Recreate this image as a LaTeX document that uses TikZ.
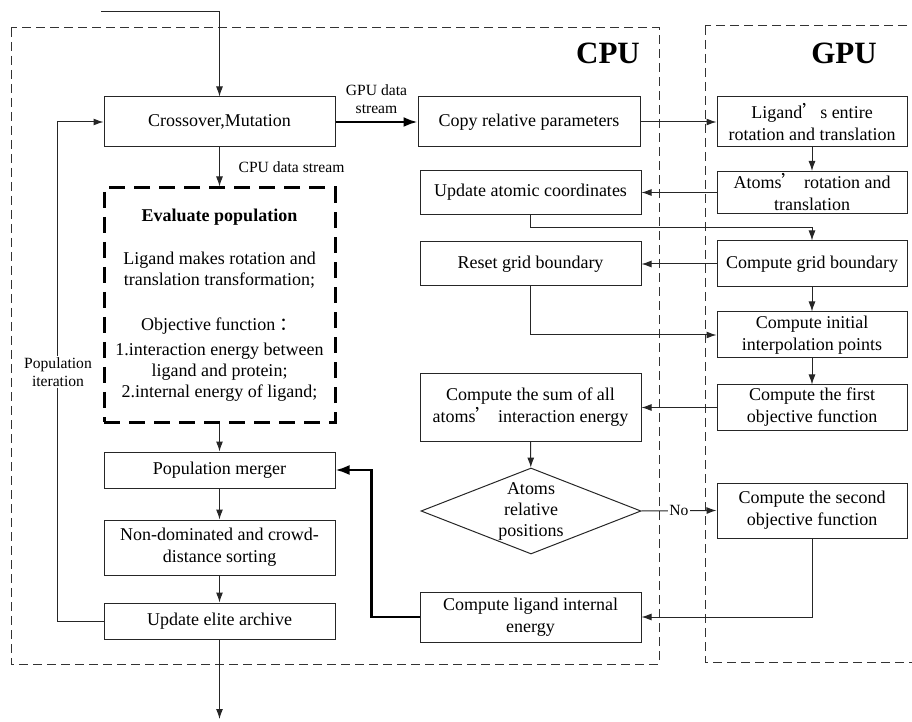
\documentclass[tikz,border=0pt]{standalone}
\usepackage{fontspec}
\setmainfont{Liberation Serif}
\newfontfamily\cjk{Noto Sans CJK SC}
\usepackage{tikz}
\usetikzlibrary{arrows.meta, shapes.geometric}
\tikzstyle{box} = [draw=black!85, line width=0.5pt, align=center, inner sep=1pt]
\tikzstyle{evalbox} = [draw=black, line width=1.5pt, dash pattern=on 8pt off 4.5pt]
\tikzstyle{decision} = [diamond, draw=black!85, line width=0.5pt, inner sep=0pt, minimum width=110pt, minimum height=43pt]
\tikzstyle{flow} = [-{Latex[length=5pt,width=3.5pt]}, line width=0.5pt, draw=black!85]
\tikzstyle{bigflow} = [-{Latex[length=7pt,width=5pt]}, line width=1.2pt, draw=black]
\tikzstyle{region} = [draw=black!80, line width=0.5pt, dash pattern=on 4.5pt off 2.5pt]
\tikzstyle{small} = [font=\fontsize{7.8}{9}\selectfont]
\tikzstyle{title} = [font=\bfseries\fontsize{15.5}{18}\selectfont]

\begin{document}
\begin{tikzpicture}[x=0.5pt, y=-0.5pt, font=\fontsize{9}{11}\selectfont]
    \useasboundingbox (0,0) rectangle (912,722);

    % CPU and GPU regions
    \draw[region] (11,28) rectangle (659,664);
    \draw[region] (705,26) rectangle (940,662);
    \node[title] (cpulabel) at (608,53) {CPU};
    \node[title] (gpulabel) at (844,53) {GPU};

    % Left column (genetic loop)
    \node[box, minimum width=115.5pt, minimum height=25pt] (cross) at (219.5,122) {Crossover,Mutation};
    \node[box, evalbox, minimum width=115.5pt, minimum height=117pt, font=\fontsize{9}{10.5}\selectfont] (eval) at (219.5,305)
        {\textbf{Evaluate population}\\[11pt]Ligand makes rotation and\\translation transformation;\\[12pt]Objective function {\cjk ：}\\[2pt]1.interaction energy between\\ligand and protein;\\2.internal energy of ligand;};
    \node[box, minimum width=115.5pt, minimum height=18pt] (merge) at (219.5,470) {Population merger};
    \node[box, minimum width=115.5pt, minimum height=27.5pt] (nondom) at (219.5,547.5) {Non-dominated and crowd-\\distance sorting};
    \node[box, minimum width=115.5pt, minimum height=18pt] (elite) at (219.5,621) {Update elite archive};

    % CPU side of the data exchange
    \node[box, minimum width=111pt, minimum height=25pt] (copy) at (529,122) {Copy relative parameters};
    \node[box, minimum width=110.5pt, minimum height=22pt] (update) at (530.5,192.5) {Update atomic coordinates};
    \node[box, minimum width=110.5pt, minimum height=22pt] (reset) at (530.5,264) {Reset grid boundary};
    \node[box, minimum width=110.5pt, minimum height=33.5pt] (sum) at (530.5,407.5) {Compute the sum of all\\atoms{\cjk ’} interaction energy};
    \node[decision] (dia) at (531,511) {};
    \node[align=center, font=\fontsize{9}{10.5}\selectfont] (diatext) at (531,511) {Atoms\\relative\\positions};
    \node[box, minimum width=110.5pt, minimum height=25pt] (inner) at (530.5,617) {Compute ligand internal\\energy};

    % GPU column
    \node[box, minimum width=95pt, minimum height=25pt] (lig) at (812,122) {Ligand{\cjk ’}s entire\\rotation and translation};
    \node[box, minimum width=95pt, minimum height=21pt] (rot) at (812,192.5) {Atoms{\cjk ’} rotation and\\translation};
    \node[box, minimum width=95pt, minimum height=23pt] (grid) at (812,264) {Compute grid boundary};
    \node[box, minimum width=95pt, minimum height=23pt] (init) at (812,335) {Compute initial\\interpolation points};
    \node[box, minimum width=95pt, minimum height=22.5pt] (first) at (812,407.5) {Compute the first\\objective function};
    \node[box, minimum width=95pt, minimum height=27.5pt] (second) at (812,510.5) {Compute the second\\objective function};

    % Entry and exit
    \coordinate (start) at (101,12);
    \coordinate (finish) at (219.5,719);
    \draw[flow] (start) -| (cross.north);
    \draw[flow] (elite) -- (finish);

    % Connectors
    \draw[bigflow] (cross) -- node[above, small, align=center] {GPU data\\stream} (copy);
    \draw[flow] (cross) -- node[right=6pt, small] {CPU data stream} (eval);
    \draw[flow] (eval) -- (merge);
    \draw[flow] (merge) -- (nondom);
    \draw[flow] (nondom) -- (elite);
    \draw[flow] (elite.west) -- ++(-46,0) |- (cross.west);
    \node[small, fill=white, align=center, inner sep=1pt] (iterlabel) at (58,372) {Population\\iteration};

    \draw[flow] (copy) -- (lig);
    \draw[flow] (lig) -- (rot);
    \draw[flow] (rot) -- (update);
    \draw[flow] (update.south) -- ++(0,13) -| (grid.north);
    \draw[flow] (grid) -- (reset);
    \draw[flow] (grid) -- (init);
    \draw[flow] (reset.south) |- (init.west);
    \draw[flow] (init) -- (first);
    \draw[flow] (first) -- (sum);
    \draw[flow] (sum) -- (dia);
    \draw[flow] (dia.east) -- node[small, fill=white, inner sep=0.5pt] {No} (second.west);
    \draw[flow] (second.south) |- (inner.east);
    \draw[bigflow] (inner.west) -- ++(-48,0) |- (merge.east);
\end{tikzpicture}
\end{document}
